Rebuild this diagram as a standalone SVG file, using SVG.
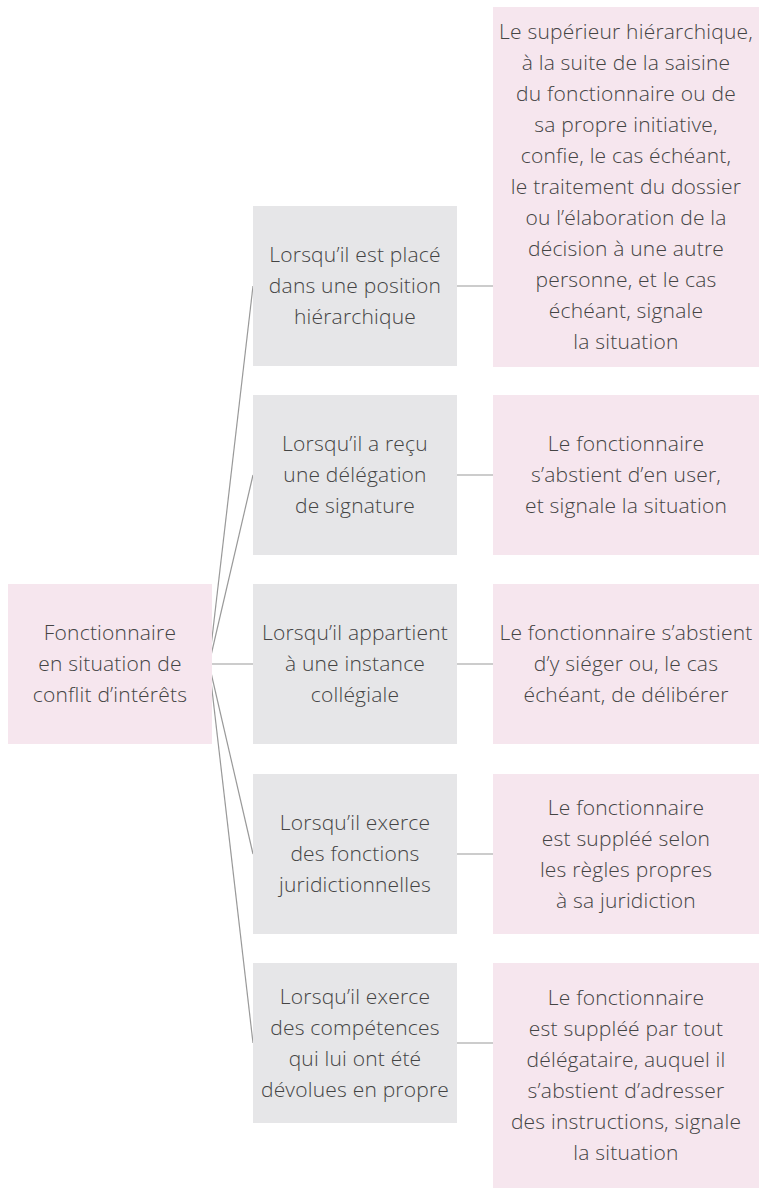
<svg xmlns="http://www.w3.org/2000/svg" width="759" height="1190" viewBox="0 0 759 1190">
<style>
.pink{fill:#f6e6ee}
.gray{fill:#e6e6e8}
.t{font-family:"Open Sans","Liberation Sans",sans-serif;font-weight:300;font-size:21px;letter-spacing:0.2px;fill:#444;text-anchor:middle}
.c line{stroke:#999;stroke-width:1.2}
</style>
<rect width="759" height="1190" fill="#fff"/>
<g class="c" id="connectors">
<line x1="209" y1="664" x2="253" y2="286"/>
<line x1="209" y1="664" x2="253" y2="475"/>
<line x1="209" y1="664" x2="253" y2="664"/>
<line x1="209" y1="664" x2="253" y2="854"/>
<line x1="209" y1="664" x2="253" y2="1043"/>
<line x1="457" y1="286" x2="493" y2="286"/>
<line x1="457" y1="475" x2="493" y2="475"/>
<line x1="457" y1="664" x2="493" y2="664"/>
<line x1="457" y1="854" x2="493" y2="854"/>
<line x1="457" y1="1043" x2="493" y2="1043"/>
</g>
<g id="root">
<rect class="pink" x="8" y="584" width="204" height="160"/>
<text class="t"><tspan x="110" y="640">Fonctionnaire</tspan><tspan x="110" y="671">en situation de</tspan><tspan x="110" y="702">conflit d’intérêts</tspan></text>
</g>
<g id="case1">
<rect class="gray" x="253" y="206" width="204" height="160"/>
<text class="t"><tspan x="355" y="262">Lorsqu’il est placé</tspan><tspan x="355" y="293">dans une position</tspan><tspan x="355" y="324">hiérarchique</tspan></text>
</g>
<g id="case2">
<rect class="gray" x="253" y="395" width="204" height="160"/>
<text class="t"><tspan x="355" y="451">Lorsqu’il a reçu</tspan><tspan x="355" y="482">une délégation</tspan><tspan x="355" y="513">de signature</tspan></text>
</g>
<g id="case3">
<rect class="gray" x="253" y="584" width="204" height="160"/>
<text class="t"><tspan x="355" y="640">Lorsqu’il appartient</tspan><tspan x="355" y="671">à une instance</tspan><tspan x="355" y="702">collégiale</tspan></text>
</g>
<g id="case4">
<rect class="gray" x="253" y="774" width="204" height="160"/>
<text class="t"><tspan x="355" y="830">Lorsqu’il exerce</tspan><tspan x="355" y="861">des fonctions</tspan><tspan x="355" y="892">juridictionnelles</tspan></text>
</g>
<g id="case5">
<rect class="gray" x="253" y="963" width="204" height="160"/>
<text class="t"><tspan x="355" y="1003.5">Lorsqu’il exerce</tspan><tspan x="355" y="1034.5">des compétences</tspan><tspan x="355" y="1065.5">qui lui ont été</tspan><tspan x="355" y="1096.5">dévolues en propre</tspan></text>
</g>
<g id="action1">
<rect class="pink" x="493" y="7" width="266" height="360"/>
<text class="t"><tspan x="626" y="39">Le supérieur hiérarchique,</tspan><tspan x="626" y="70">à la suite de la saisine</tspan><tspan x="626" y="101">du fonctionnaire ou de</tspan><tspan x="626" y="132">sa propre initiative,</tspan><tspan x="626" y="163">confie, le cas échéant,</tspan><tspan x="626" y="194">le traitement du dossier</tspan><tspan x="626" y="225">ou l’élaboration de la</tspan><tspan x="626" y="256">décision à une autre</tspan><tspan x="626" y="287">personne, et le cas</tspan><tspan x="626" y="318">échéant, signale</tspan><tspan x="626" y="349">la situation</tspan></text>
</g>
<g id="action2">
<rect class="pink" x="493" y="395" width="266" height="160"/>
<text class="t"><tspan x="626" y="451">Le fonctionnaire</tspan><tspan x="626" y="482">s’abstient d’en user,</tspan><tspan x="626" y="513">et signale la situation</tspan></text>
</g>
<g id="action3">
<rect class="pink" x="493" y="584" width="266" height="160"/>
<text class="t"><tspan x="626" y="640">Le fonctionnaire s’abstient</tspan><tspan x="626" y="671">d’y siéger ou, le cas</tspan><tspan x="626" y="702">échéant, de délibérer</tspan></text>
</g>
<g id="action4">
<rect class="pink" x="493" y="774" width="266" height="160"/>
<text class="t"><tspan x="626" y="814.5">Le fonctionnaire</tspan><tspan x="626" y="845.5">est suppléé selon</tspan><tspan x="626" y="876.5">les règles propres</tspan><tspan x="626" y="907.5">à sa juridiction</tspan></text>
</g>
<g id="action5">
<rect class="pink" x="493" y="963" width="266" height="225"/>
<text class="t"><tspan x="626" y="1005">Le fonctionnaire</tspan><tspan x="626" y="1036">est suppléé par tout</tspan><tspan x="626" y="1067">délégataire, auquel il</tspan><tspan x="626" y="1098">s’abstient d’adresser</tspan><tspan x="626" y="1129">des instructions, signale</tspan><tspan x="626" y="1160">la situation</tspan></text>
</g>
</svg>
